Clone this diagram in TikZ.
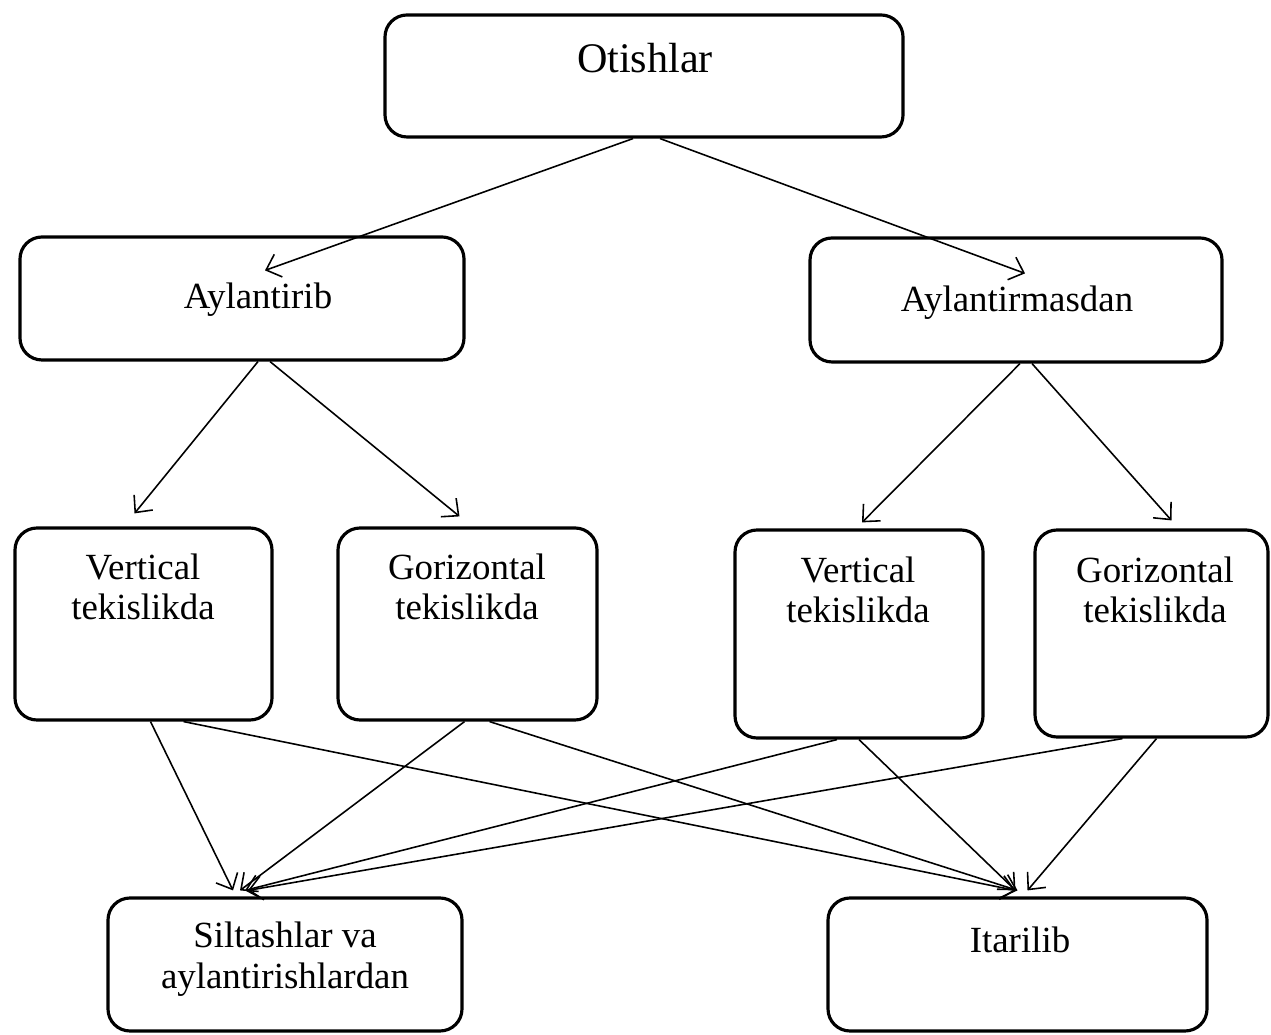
\documentclass[tikz,border=0pt]{standalone}
\usepackage{fontspec}
\setmainfont{Liberation Serif}
\usetikzlibrary{arrows.meta}

\begin{document}
\begin{tikzpicture}[
    blok/.style={draw,line width=0.9pt,rounded corners=0.22cm,inner sep=0pt},
    matn/.style={font=\fontsize{10.5}{11.5}\selectfont,align=center,inner sep=1pt},
    strelka/.style={-{Straight Barb[length=1.3mm,width=2.4mm]},line width=0.45pt}]
        \useasboundingbox (0,0) rectangle (12.71,10.34);

        % Bloklar
        \node[blok,minimum width=5.18cm,minimum height=1.22cm] (otis) at (6.44,9.58){};
        \node[blok,minimum width=4.44cm,minimum height=1.23cm] (ayl) at (2.42,7.355){};
        \node[blok,minimum width=4.12cm,minimum height=1.24cm] (aylm) at (10.16,7.34){};
        \node[blok,minimum width=2.57cm,minimum height=1.92cm] (vertA) at (1.435,4.10){};
        \node[blok,minimum width=2.59cm,minimum height=1.92cm] (gorA) at (4.675,4.10){};
        \node[blok,minimum width=2.48cm,minimum height=2.08cm] (vertB) at (8.59,4.00){};
        \node[blok,minimum width=2.33cm,minimum height=2.07cm] (gorB) at (11.515,4.005){};
        \node[blok,minimum width=3.54cm,minimum height=1.33cm] (silt) at (2.85,0.695){};
        \node[blok,minimum width=3.79cm,minimum height=1.33cm] (itar) at (10.175,0.695){};

        % Yozuvlar
        \node[matn,font=\fontsize{12}{14}\selectfont] (otisT) at (6.45,9.76){Otishlar};
        \node[matn] (aylT) at (2.58,7.34){Aylantirib};
        \node[matn] (aylmT) at (10.17,7.31){Aylantirmasdan};
        \node[matn] (vertAT) at (1.43,4.47){Vertical\\tekislikda};
        \node[matn] (gorAT) at (4.67,4.47){Gorizontal\\tekislikda};
        \node[matn] (vertBT) at (8.58,4.44){Vertical\\tekislikda};
        \node[matn] (gorBT) at (11.55,4.44){Gorizontal\\tekislikda};
        \node[matn] (siltT) at (2.85,0.75){Siltashlar va\\aylantirishlardan};
        \node[matn] (itarT) at (10.20,0.94){Itarilib};

        % Strelkalar
        \draw[strelka] ([xshift=-0.11cm]otis.south) -- ([shift={(0.23,-0.35)}]ayl.north);
        \draw[strelka] ([xshift=0.16cm]otis.south) -- ([shift={(0.09,-0.37)}]aylm.north);
        \draw[strelka] ([xshift=0.16cm]ayl.south) -- ([shift={(-0.09,0.13)}]vertA.north);
        \draw[strelka] ([xshift=0.28cm]ayl.south) -- ([shift={(-0.08,0.10)}]gorA.north);
        \draw[strelka] ([xshift=0.04cm]aylm.south) -- ([shift={(0.03,0.06)}]vertB.north);
        \draw[strelka] ([xshift=0.16cm]aylm.south) -- ([shift={(0.20,0.08)}]gorB.north);

        \draw[strelka] ([xshift=0.07cm]vertA.south) -- ([shift={(-0.52,0.06)}]silt.north);
        \draw[strelka] ([xshift=0.40cm]vertA.south) -- ([shift={(-0.02,0.06)}]itar.north);
        \draw[strelka] ([xshift=-0.03cm]gorA.south) -- ([shift={(-0.45,0.06)}]silt.north);
        \draw[strelka] ([xshift=0.22cm]gorA.south) -- ([shift={(0,0.06)}]itar.north);
        \draw[strelka] ([xshift=-0.22cm]vertB.south) -- ([shift={(-0.40,0.06)}]silt.north);
        \draw[strelka] (vertB.south) -- ([shift={(-0.02,0.06)}]itar.north);
        \draw[strelka] ([xshift=-0.29cm]gorB.south) -- ([shift={(-0.37,0.06)}]silt.north);
        \draw[strelka] ([xshift=0.05cm]gorB.south) -- ([shift={(0.10,0.06)}]itar.north);
      \end{tikzpicture}
\end{document}
